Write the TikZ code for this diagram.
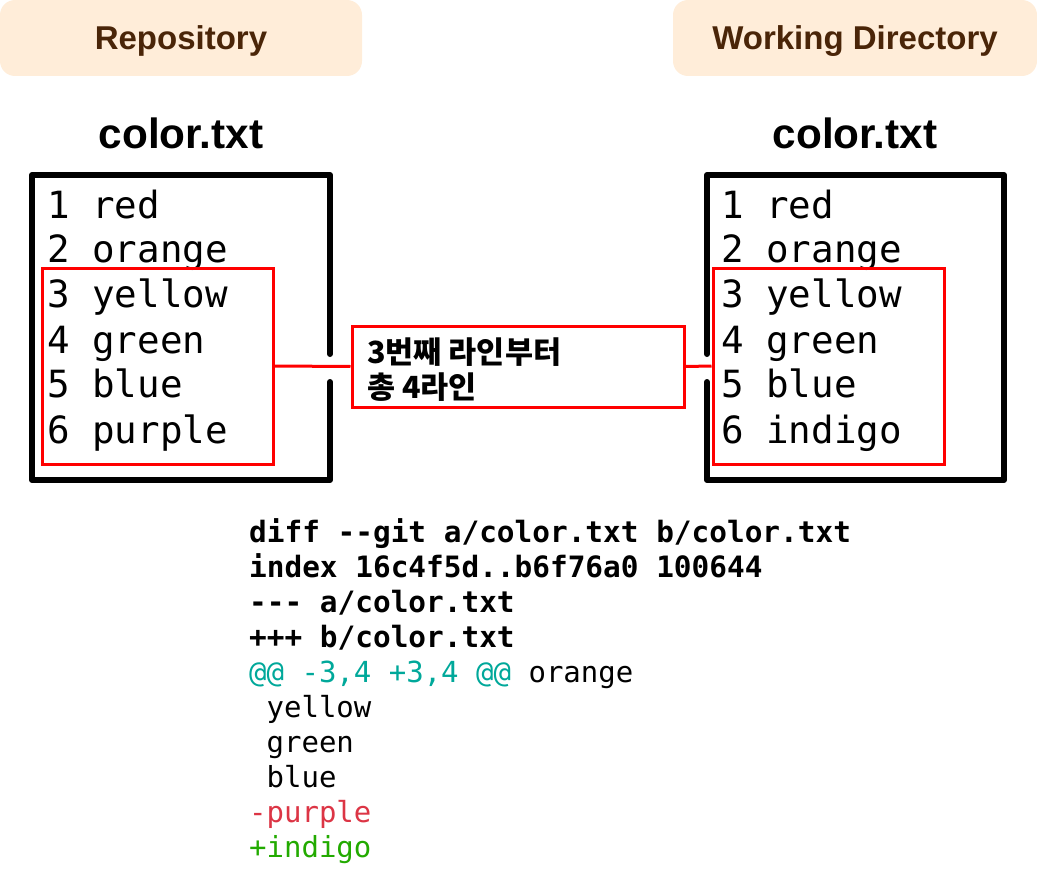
\documentclass[tikz,border=0pt]{standalone}
\usepackage{fontspec}
\setmainfont{Liberation Sans}
\newfontfamily\mono{DejaVu Sans Mono}
\newfontfamily\kr{Noto Sans CJK KR}
\definecolor{boxfill}{HTML}{FFEDD9}
\definecolor{brown}{HTML}{4A2508}
\definecolor{hunk}{HTML}{00A89A}
\definecolor{delred}{HTML}{DC3545}
\definecolor{addgreen}{HTML}{22AA00}
\tikzset{
  header/.style={fill=boxfill, rounded corners=15pt, minimum width=362pt, minimum height=76pt, inner sep=0pt, text height=23pt, text depth=0pt, font=\fontsize{33}{33}\selectfont\bfseries, text=brown},
  fname/.style={font=\fontsize{42.3}{42.3}\selectfont\bfseries, anchor=base},
  fileline/.style={font=\mono\fontsize{37.5}{37.5}\selectfont, anchor=base west, inner sep=0pt},
  diffb/.style={font=\mono\fontsize{29.4}{29.4}\selectfont\bfseries, anchor=base west, inner sep=0pt},
  diffr/.style={font=\mono\fontsize{29}{29}\selectfont, anchor=base west, inner sep=0pt},
  filebox/.style={line width=6pt, line join=round, line cap=round},
  redbox/.style={draw=red, line width=3pt},
  redline/.style={draw=red, line width=3pt},
}
\begin{document}
\begin{tikzpicture}[x=1pt,y=-1pt]
\useasboundingbox (0,0) rectangle (1037,883);
% headers
\node[header] (repo) at (181,38) {Repository};
\node[header, minimum width=364pt] (wd) at (855,38) {Working Directory};
% file names
\node[fname] (ln) at (181,148) {color.txt};
\node[fname] (rn) at (855,148) {color.txt};
% left file box
\draw[filebox] (330,354) -- (330,175) -- (32,175) -- (32,480) -- (330,480) -- (330,382);
% right file box
\draw[filebox] (707,354) -- (707,175) -- (1004,175) -- (1004,480) -- (707,480) -- (707,382);
% left lines
\node[fileline] (l1) at (47,218) {1 red};
\node[fileline] (l2) at (47,262) {2 orange};
\node[fileline] (l3) at (47,307) {3 yellow};
\node[fileline] (l4) at (47,353) {4 green};
\node[fileline] (l5) at (47,397) {5 blue};
\node[fileline] (l6) at (47,443) {6 purple};
% right lines
\node[fileline] (r1) at (721,218) {1 red};
\node[fileline] (r2) at (721,262) {2 orange};
\node[fileline] (r3) at (721,307) {3 yellow};
\node[fileline] (r4) at (721,353) {4 green};
\node[fileline] (r5) at (721,397) {5 blue};
\node[fileline] (r6) at (721,443) {6 indigo};
% red boxes
\node[redbox, minimum width=231pt, minimum height=196pt, inner sep=0pt] (lred) at (157.5,366) {};
\node[redbox, minimum width=231pt, minimum height=196pt, inner sep=0pt] (rred) at (828.5,366) {};
\node[redbox, minimum width=332pt, minimum height=81pt, inner sep=0pt] (mid) at (518,366.5) {};
\node[font=\kr\bfseries\fontsize{30.5}{35}\selectfont, anchor=base west, inner sep=0pt, align=left] (midtxt) at (367,398) {3번째 라인부터\\총 4라인};
\draw[redline] (lred.east) -- (mid.west);
\draw[redline] (mid.east) -- (rred.west);
% diff
\node[diffb] (d1) at (249,542) {diff --git a/color.txt b/color.txt};
\node[diffb] (d2) at (249,577) {index 16c4f5d..b6f76a0 100644};
\node[diffb] (d3) at (249,612) {--- a/color.txt};
\node[diffb] (d4) at (249,647) {+++ b/color.txt};
\node[diffr] (d5) at (249,682) {\textcolor{hunk}{@@ -3,4 +3,4 @@} orange};
\node[diffr] (d6) at (249,717) {\hphantom{x}yellow};
\node[diffr] (d7) at (249,752) {\hphantom{x}green};
\node[diffr] (d8) at (249,787) {\hphantom{x}blue};
\node[diffr, text=delred] (d9) at (249,822) {-purple};
\node[diffr, text=addgreen] (d10) at (249,857) {+indigo};
\end{tikzpicture}
\end{document}
